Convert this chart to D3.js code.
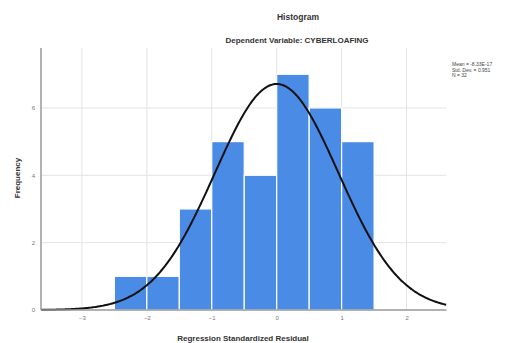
<!DOCTYPE html>
<html><head><meta charset="utf-8">
<script src="https://cdn.jsdelivr.net/npm/d3@7"></script>
<style>body{margin:0;background:#fff}svg{display:block}</style>
</head><body>
<svg id="c" width="506" height="343"></svg>
<script>
const binStarts = [-2.5, -2.0, -1.5, -1.0, -0.5, 0.0, 0.5, 1.0];
const binWidth = 0.5;
const counts = [1, 1, 3, 5, 4, 7, 6, 5];
const xTicks = [-3, -2, -1, 0, 1, 2];
const yTicks = [0, 2, 4, 6];
const stats = { mean: 0, sd: 0.951, n: 32 };
const legendLines = ["Mean = -8.33E-17", "Std. Dev. = 0.951", "N = 32"];

const svg = d3.select("#c");
const L = 41, R = 446.5, T = 48, B = 310;
const x = d3.scaleLinear().domain([-3.63, 2.615]).range([L, R]);
const y = d3.scaleLinear().domain([0, 7.78]).range([B, T]);

// gridlines
const g = svg.append("g");
g.selectAll(".vg").data(xTicks).join("line")
  .attr("x1", d => x(d)).attr("x2", d => x(d)).attr("y1", T).attr("y2", B)
  .attr("stroke", "#e3e3e3").attr("stroke-width", 1);
g.selectAll(".hg").data(yTicks.filter(d => d > 0)).join("line")
  .attr("x1", L).attr("x2", R).attr("y1", d => y(d)).attr("y2", d => y(d))
  .attr("stroke", "#e3e3e3").attr("stroke-width", 1);

// bars
svg.append("g").selectAll("rect").data(binStarts).join("rect")
  .attr("x", (d) => x(d))
  .attr("width", d => x(d + binWidth) - x(d))
  .attr("y", (d, i) => y(counts[i]))
  .attr("height", (d, i) => y(0) - y(counts[i]))
  .attr("fill", "#4a8be6")
  .attr("stroke", "#ffffff").attr("stroke-width", 1.2);

// normal curve
const pts = d3.range(-3.63, 2.62, 0.02).map(v => [v,
  stats.n * binWidth / (stats.sd * Math.sqrt(2 * Math.PI)) *
  Math.exp(-0.5 * Math.pow((v - stats.mean) / stats.sd, 2))]);
svg.append("path").datum(pts)
  .attr("d", d3.line().x(d => x(d[0])).y(d => y(d[1])).curve(d3.curveBasis))
  .attr("fill", "none").attr("stroke", "#111").attr("stroke-width", 2);

// axes lines
svg.append("line").attr("x1", L).attr("x2", L).attr("y1", T).attr("y2", B)
  .attr("stroke", "#999").attr("stroke-width", 1.5);
svg.append("line").attr("x1", L).attr("x2", R).attr("y1", B).attr("y2", B)
  .attr("stroke", "#999").attr("stroke-width", 1.5);

const F = "Arial, Liberation Sans, sans-serif";
// tick labels
const xa = svg.append("g").attr("transform", `translate(0,${B})`)
  .call(d3.axisBottom(x).tickValues(xTicks).tickFormat(d3.format("d")).tickSize(0).tickPadding(6));
xa.select(".domain").remove();
xa.selectAll("text").attr("font-family", F).attr("font-size", 6).attr("fill", "#777");
const ya = svg.append("g").attr("transform", `translate(${L},0)`)
  .call(d3.axisLeft(y).tickValues(yTicks).tickFormat(d3.format("d")).tickSize(0).tickPadding(6));
ya.select(".domain").remove();
ya.selectAll("text").attr("font-family", F).attr("font-size", 6).attr("fill", "#777");

// titles
svg.append("text").attr("x", 298).attr("y", 20).attr("text-anchor", "middle")
  .attr("font-family", F).attr("font-size", 8.5).attr("font-weight", "bold").attr("fill", "#333").text("Histogram");
svg.append("text").attr("x", 297).attr("y", 43).attr("text-anchor", "middle")
  .attr("font-family", F).attr("font-size", 8).attr("font-weight", "bold").attr("fill", "#333").text("Dependent Variable: CYBERLOAFING");
svg.append("text").attr("x", 243).attr("y", 341).attr("text-anchor", "middle")
  .attr("font-family", F).attr("font-size", 8).attr("font-weight", "bold").attr("fill", "#333").text("Regression Standardized Residual");
svg.append("text").attr("transform", "translate(20,178) rotate(-90)").attr("text-anchor", "middle")
  .attr("font-family", F).attr("font-size", 8).attr("font-weight", "bold").attr("fill", "#333").text("Frequency");

// legend
svg.append("g").selectAll("text").data(legendLines).join("text")
  .attr("x", 452).attr("y", (d, i) => 66 + i * 5.5)
  .attr("font-family", F).attr("font-size", 5).attr("fill", "#444").text(d => d);
</script>
</body></html>
